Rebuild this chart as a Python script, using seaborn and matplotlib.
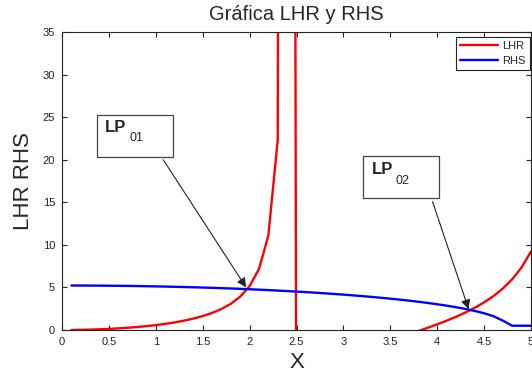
import matplotlib
matplotlib.use("Agg")
import matplotlib.pyplot as plt
import matplotlib.patches as mpatches
import numpy as np
import pandas as pd
import seaborn as sns

# Sample points of the characteristic equation (step 0.1)
x_vals = [0.1, 0.2, 0.3, 0.4, 0.5, 0.6, 0.7, 0.8, 0.9, 1.0,
          1.1, 1.2, 1.3, 1.4, 1.5, 1.6, 1.7, 1.8, 1.9, 2.0,
          2.1, 2.2, 2.3, 2.4, 2.5, 2.6, 2.7, 2.8, 2.9, 3.0,
          3.1, 3.2, 3.3, 3.4, 3.5, 3.6, 3.7, 3.8, 3.9, 4.0,
          4.1, 4.2, 4.3, 4.4, 4.5, 4.6, 4.7, 4.8, 4.9, 5.0]

lhr = [0.005, 0.020, 0.046, 0.082, 0.129, 0.189, 0.261, 0.349, 0.452, 0.575,
       0.720, 0.891, 1.094, 1.339, 1.635, 2.002, 2.468, 3.079, 3.918, 5.152,
       7.163, 11.083, 22.357, 497.4, -25.69, -12.646, -8.370, -6.200, -4.854, -3.912,
       -3.194, -2.612, -2.115, -1.673, -1.265, -0.877, -0.499, -0.121, 0.264, 0.665,
       1.089, 1.546, 2.048, 2.607, 3.244, 3.985, 4.870, 5.959, 7.352, 9.222]

rhs = [5.226, 5.223, 5.218, 5.211, 5.201, 5.190, 5.176, 5.160, 5.142, 5.122,
       5.099, 5.075, 5.048, 5.018, 4.986, 4.952, 4.915, 4.876, 4.834, 4.784,
       4.736, 4.685, 4.631, 4.574, 4.513, 4.449, 4.381, 4.310, 4.234, 4.155,
       4.071, 3.981, 3.887, 3.787, 3.680, 3.567, 3.446, 3.316, 3.176, 3.025,
       2.860, 2.679, 2.475, 2.241, 1.967, 1.620, 1.100, 0.500, 0.500, 0.500]

series_names = ["LHR", "RHS"]
series_colors = {"LHR": "#ff0000", "RHS": "#0000ff"}

x_ticks = [0, 0.5, 1, 1.5, 2, 2.5, 3, 3.5, 4, 4.5, 5]
x_tick_labels = ["0", "0.5", "1", "1.5", "2", "2.5", "3", "3.5", "4", "4.5", "5"]
y_ticks = [0, 5, 10, 15, 20, 25, 30, 35]

# Mode labels: (text, subscript, box corners, text anchor, arrow tail, arrow head)
modes = [
    ("LP", "01", (0.37, 20.35, 1.186, 25.26), (0.46, 24.7), (1.08, 19.99), (1.963, 5.0)),
    ("LP", "02", (3.205, 15.53, 4.017, 20.46), (3.30, 19.7), (3.95, 15.09), (4.335, 2.45)),
]

df = pd.DataFrame({
    "X": x_vals * 2,
    "valor": lhr + rhs,
    "serie": ["LHR"] * len(x_vals) + ["RHS"] * len(x_vals),
})

sns.set_style("white")
plt.rcParams["font.family"] = ["Liberation Sans", "DejaVu Sans"]

fig = plt.figure(figsize=(5.32, 3.81), dpi=100)
ax = fig.add_axes([62 / 532, 51 / 381, 469 / 532, 298 / 381])

sns.lineplot(data=df, x="X", y="valor", hue="serie", hue_order=series_names,
             palette=series_colors, sort=False, estimator=None, linewidth=1.7,
             legend=False, ax=ax)
for line, name in zip(ax.lines, series_names):
    line.set_label(name)

ax.set_xlim(0, 5)
ax.set_ylim(0, 35)
ax.set_xticks(x_ticks)
ax.set_xticklabels(x_tick_labels)
ax.set_yticks(y_ticks)
ax.tick_params(direction="in", length=3.5, width=0.8, colors="#222222",
               labelsize=8, pad=5, top=True, right=True, bottom=True, left=True)
for s in ax.spines.values():
    s.set_visible(True)
    s.set_color("#222222")
    s.set_linewidth(0.8)

ax.set_title("Gráfica LHR y RHS", fontsize=14.5, pad=9)
ax.set_xlabel("X", fontsize=16, labelpad=4)
ax.set_ylabel("LHR RHS", fontsize=16, labelpad=6)

leg = ax.legend(loc="upper right", bbox_to_anchor=(530 / 532, 1 - 36.5 / 381),
                bbox_transform=fig.transFigure, borderaxespad=0,
                fancybox=False, framealpha=1, edgecolor="#222222",
                fontsize=8, handlelength=3.4, handletextpad=0.4,
                borderpad=0.4, labelspacing=0.45)
leg.get_frame().set_linewidth(0.8)

for main, sub, (x0, y0, x1, y1), (tx, ty), tail, head in modes:
    ax.add_patch(mpatches.Rectangle((x0, y0), x1 - x0, y1 - y0, fill=True,
                                    facecolor="white", edgecolor="#444444",
                                    linewidth=0.9, zorder=4))
    t = ax.text(tx, ty, main, fontsize=12, fontweight="bold", va="top",
                ha="left", zorder=5)
    ax.annotate(sub, xy=(1, 0), xycoords=t, xytext=(2, -7),
                textcoords="offset points", fontsize=9, va="bottom",
                ha="left", zorder=5)
    ax.annotate("", xy=head, xytext=tail,
                arrowprops=dict(arrowstyle="-|>", color="#222222", lw=0.8,
                                mutation_scale=14, shrinkA=0, shrinkB=0),
                zorder=5)

fig.savefig("out.png", dpi=100)
